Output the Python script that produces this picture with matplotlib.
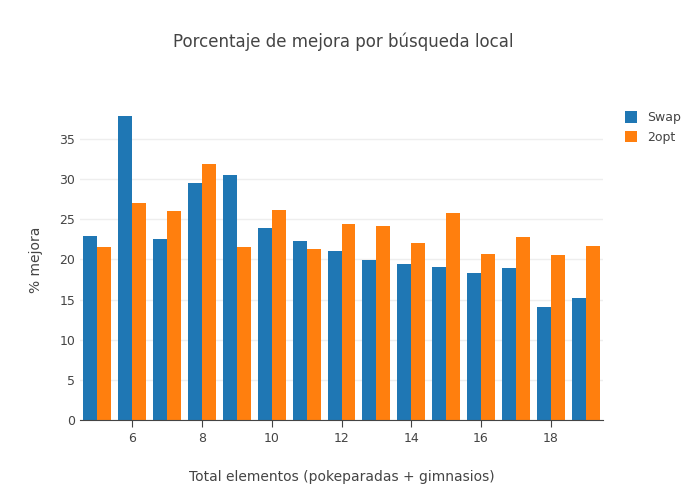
import numpy as np
from matplotlib import pyplot as plt

elementos = [5, 6, 7, 8, 9, 10, 11, 12, 13, 14, 15, 16, 17, 18, 19]
swap = [22.9, 37.9, 22.5, 29.5, 30.5, 23.9, 22.3, 21.0, 19.9, 19.4, 19.1, 18.3, 18.9, 14.1, 15.2]
dos_opt = [21.6, 27.0, 26.0, 31.9, 21.5, 26.2, 21.3, 24.4, 24.2, 22.1, 25.8, 20.7, 22.8, 20.6, 21.7]

fig = plt.figure(figsize=(7, 5), dpi=100)
ax = fig.add_axes([80/700, 80/500, 523/700, 320/500])

x = np.array(elementos)
w = 0.4
ax.bar(x - w/2, swap, w, color="#1f77b4", label="Swap")
ax.bar(x + w/2, dos_opt, w, color="#ff7f0e", label="2opt")

ax.set_xlim(4.5, 19.5)
ax.set_ylim(0, 39.85)
ax.set_xticks([6, 8, 10, 12, 14, 16, 18])
ax.set_yticks([0, 5, 10, 15, 20, 25, 30, 35])
ax.grid(axis="y", color="#eeeeee", linewidth=1)
ax.set_axisbelow(True)
for s in ["top", "right", "left"]:
    ax.spines[s].set_visible(False)
ax.spines["bottom"].set_color("#444444")
ax.tick_params(axis="both", colors="#444444", labelsize=9, length=0)
ax.tick_params(axis="x", length=5, color="#444444")
ax.set_xlabel("Total elementos (pokeparadas + gimnasios)", color="#444444", fontsize=10, labelpad=18)
ax.set_ylabel("% mejora", color="#444444", fontsize=10, labelpad=12)
fig.suptitle("Porcentaje de mejora por búsqueda local", x=0.49, y=0.935, color="#444444", fontsize=12)
ax.legend(loc="upper left", bbox_to_anchor=(1.02, 1.0), frameon=False, fontsize=9,
          handlelength=1, handleheight=1, labelcolor="#444444")

plt.savefig("out.png")
